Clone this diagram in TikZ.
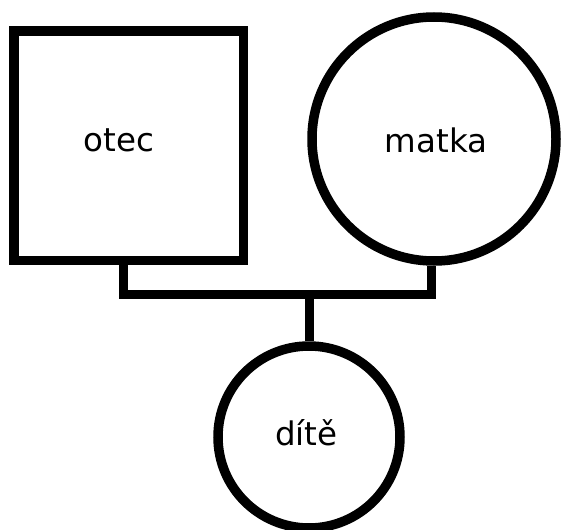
\documentclass[tikz,border=0pt]{standalone}
\usepackage{fontspec}
\setmainfont{DejaVu Sans}
\begin{document}
\begin{tikzpicture}[x=1pt,y=-1pt,
  shapebox/.style={draw=black,line width=9.5pt,inner sep=0pt,fill=white},
  conn/.style={draw=black,line width=9pt,line join=miter},
  lbl/.style={anchor=base,inner sep=0pt,font=\fontsize{32.5}{38}\selectfont}]
\useasboundingbox[fill=white] (0,0) rectangle (563,530);
\node[shapebox,rectangle,minimum size=229.5pt] (otec) at (128.75,145.5) {};
\node[shapebox,circle,minimum size=244pt] (matka) at (434,139) {};
\node[shapebox,circle,minimum size=182pt] (dite) at (309,437) {};
\coordinate (bar) at (309,294.5);
\draw[conn] ([xshift=-5.5pt]otec.south) |- (bar) -| ([xshift=-3pt]matka.south);
\draw[conn] (bar) -- (dite.north);
\node[lbl] (totec) at (119,151.5) {otec};
\node[lbl] (tmatka) at (436,152) {matka};
\node[lbl] (tdite) at (306.5,445) {dítě};
\end{tikzpicture}
\end{document}
